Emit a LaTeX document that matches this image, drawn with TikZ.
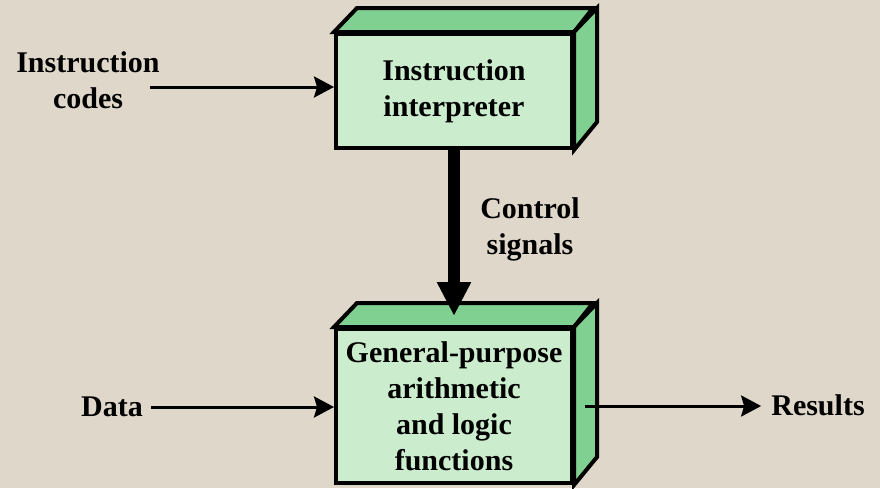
\documentclass[tikz,border=0pt]{standalone}
\usepackage{fontspec}
\setmainfont{Liberation Serif}
\usetikzlibrary{arrows.meta}
\definecolor{paper}{RGB}{223,215,202}
\definecolor{facegreen}{RGB}{204,236,206}
\definecolor{sidegreen}{RGB}{128,208,145}

\begin{document}
\begin{tikzpicture}[x=1pt,y=-1pt,
  txt/.style={font=\fontsize{30}{36}\selectfont\bfseries,align=center,inner sep=0pt},
  unit/.style={draw,line width=4pt,fill=facegreen,minimum width=236pt,txt},
  depth/.style={draw,line width=4pt,fill=sidegreen},
  flow/.style={line width=3pt,-{Stealth[length=20pt,width=21pt,inset=3pt]}},
  ctrl/.style={line width=12pt,-{Triangle[length=34pt,width=32pt]}}]
\fill [paper] (0,0) rectangle (880,488);
\useasboundingbox (0,0) rectangle (880,488);

\node [unit,minimum height=114pt] (interp) at (454,91) {Instruction\\interpreter};
\draw [depth] (interp.north west) -- ++(23,-24) -- ++(236,0) -- (interp.north east) -- cycle;
\draw [depth] (interp.north east) -- ++(23,-24) -- ++(0,114) -- (interp.south east) -- cycle;

\node [unit,minimum height=154pt] (alu) at (454,406) {General-purpose\\arithmetic\\and logic\\functions};
\draw [depth] (alu.north west) -- ++(23,-24) -- ++(236,0) -- (alu.north east) -- cycle;
\draw [depth] (alu.north east) -- ++(23,-24) -- ++(0,154) -- (alu.south east) -- cycle;

\node [txt] (codes) at (88,80) {Instruction\\codes};
\node [txt] (ctrl) at (530,229) {Control\\signals};
\node [txt] (data) at (112,407) {Data};
\node [txt] (results) at (818,405) {Results};
\coordinate (codesout) at (150,87);
\coordinate (aluin) at ([yshift=11pt]alu.north);
\coordinate (aluout) at ([xshift=11pt]alu.east);

\draw [flow] (codesout) -- (codesout -| interp.west);
\draw [ctrl] (interp.south) -- (aluin);
\draw [flow,shorten <=8pt] (data.east) -- (data.east -| alu.west);
\draw [flow,shorten >=10pt] (aluout) -- (aluout -| results.west);
\end{tikzpicture}
\end{document}
